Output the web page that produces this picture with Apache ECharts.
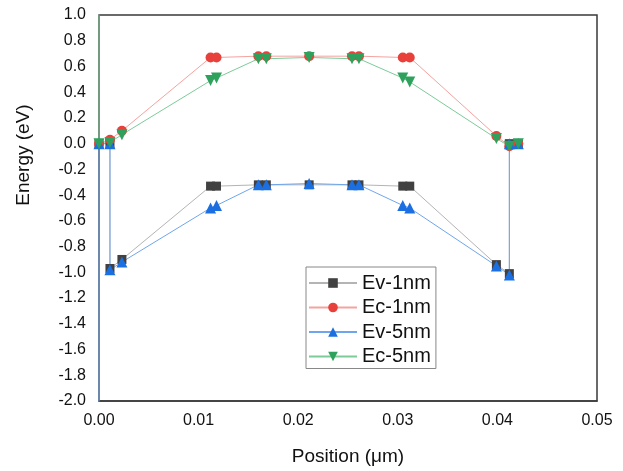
<!DOCTYPE html>
<html>
<head>
<meta charset="utf-8">
<script src="https://cdn.jsdelivr.net/npm/echarts@6/dist/echarts.min.js"></script>
<style>
  html, body { margin: 0; padding: 0; background: #fff; }
  #chart { width: 623px; height: 471px; }
</style>
</head>
<body>
<div id="chart"></div>
<script>
// positions (um) and energies (eV)
const posEv1 = [0, 0.0011, 0.0011, 0.0023, 0.0112, 0.0118, 0.0160, 0.0168, 0.0211, 0.0254, 0.0261, 0.0305, 0.0312, 0.0399, 0.0412, 0.0412, 0.0421]
const ev1 = [0, 0, -0.97, -0.90, -0.33, -0.33, -0.32, -0.32, -0.32, -0.32, -0.32, -0.33, -0.33, -0.94, -1.01, 0, 0]

const posEc1 = [0, 0.0011, 0.0023, 0.0112, 0.0118, 0.0160, 0.0168, 0.0211, 0.0254, 0.0261, 0.0305, 0.0312, 0.0399, 0.0412, 0.0421]
const ec1 = [0, 0.03, 0.10, 0.67, 0.67, 0.68, 0.68, 0.68, 0.68, 0.68, 0.67, 0.67, 0.06, -0.02, 0]

// first point lies below the axis range (line runs down the left edge)
const posEv5 = [0, 0, 0.0011, 0.0011, 0.0023, 0.0112, 0.0118, 0.0160, 0.0168, 0.0211, 0.0254, 0.0261, 0.0305, 0.0312, 0.0399, 0.0412, 0.0412, 0.0421]
const ev5 = [-3, 0, 0, -0.98, -0.92, -0.50, -0.48, -0.32, -0.32, -0.31, -0.32, -0.32, -0.48, -0.50, -0.95, -1.02, 0, 0]

// first point lies above the axis range (line runs up the left edge)
const posEc5 = [0, 0, 0.0011, 0.0023, 0.0112, 0.0118, 0.0160, 0.0168, 0.0211, 0.0254, 0.0261, 0.0305, 0.0312, 0.0399, 0.0412, 0.0421]
const ec5 = [2, 0, 0.01, 0.07, 0.49, 0.51, 0.66, 0.66, 0.67, 0.66, 0.66, 0.51, 0.48, 0.04, -0.02, 0]

const yMin = -2
const yMax = 1

function toPoints(xs, ys) {
  return xs.map((x, i) => {
    const y = ys[i]
    if (y < yMin || y > yMax) {
      return { value: [x, y], symbol: 'none' }
    }
    return [x, y]
  })
}

const font = 'Liberation Sans'
const chart = echarts.init(document.getElementById('chart'))

function lineSeries(name, data, symbol, size, markColor, lineColor, rotate) {
  return {
    name,
    type: 'line',
    data,
    symbol,
    symbolSize: size,
    symbolRotate: rotate || 0,
    clip: true,
    animation: false,
    itemStyle: { color: markColor },
    lineStyle: { color: lineColor, width: 1 }
  }
}

const option = {
  backgroundColor: '#fff',
  textStyle: { fontFamily: font },
  grid: {
    left: 99,
    right: 26,
    top: 15,
    bottom: 66,
    show: true,
    borderColor: '#3a3a3a',
    borderWidth: 1.5
  },
  legend: {
    orient: 'vertical',
    left: 306,
    top: 267,
    padding: [6, 5, 2, 2],
    itemWidth: 48,
    itemHeight: 12,
    itemGap: 4.5,
    borderColor: '#888',
    borderWidth: 1,
    backgroundColor: '#fff',
    textStyle: { fontFamily: font, fontSize: 20, color: '#111', lineHeight: 20 },
    data: ['Ev-1nm', 'Ec-1nm', 'Ev-5nm', 'Ec-5nm']
  },
  xAxis: {
    type: 'value',
    min: 0,
    max: 0.05,
    interval: 0.01,
    name: 'Position (\u03bcm)',
    nameLocation: 'middle',
    nameGap: 46,
    nameTextStyle: { fontFamily: font, fontSize: 19, color: '#111' },
    axisLine: { show: true, onZero: false, lineStyle: { color: '#3a3a3a', width: 1.5 } },
    axisTick: { show: false },
    splitLine: { show: false },
    axisLabel: {
      margin: 12,
      fontFamily: font,
      fontSize: 16,
      color: '#111',
      formatter: (v) => v.toFixed(2)
    }
  },
  yAxis: {
    type: 'value',
    min: yMin,
    max: yMax,
    interval: 0.2,
    axisLine: { show: false },
    axisTick: { show: false },
    splitLine: { show: false },
    axisLabel: {
      margin: 13,
      fontFamily: font,
      fontSize: 16,
      color: '#111',
      formatter: (v) => v.toFixed(1)
    }
  },
  graphic: [
    {
      type: 'text',
      x: 24,
      y: 155,
      rotation: Math.PI / 2,
      style: {
        text: 'Energy (eV)',
        font: '19px "Liberation Sans"',
        fill: '#111',
        align: 'center',
        verticalAlign: 'middle'
      }
    }
  ],
  series: [
    lineSeries('Ev-1nm', toPoints(posEv1, ev1), 'rect', 9, '#414141', '#b4b4b4'),
    lineSeries('Ec-1nm', toPoints(posEc1, ec1), 'circle', 10, '#e8403a', '#f4a3a0'),
    lineSeries('Ev-5nm', toPoints(posEv5, ev5), 'triangle', 11, '#1b6fe0', '#6fa5ee'),
    lineSeries('Ec-5nm', toPoints(posEc5, ec5), 'triangle', 11, '#2ea25c', '#7ccb99', 180)
  ]
}

chart.setOption(option)
</script>
</body>
</html>
